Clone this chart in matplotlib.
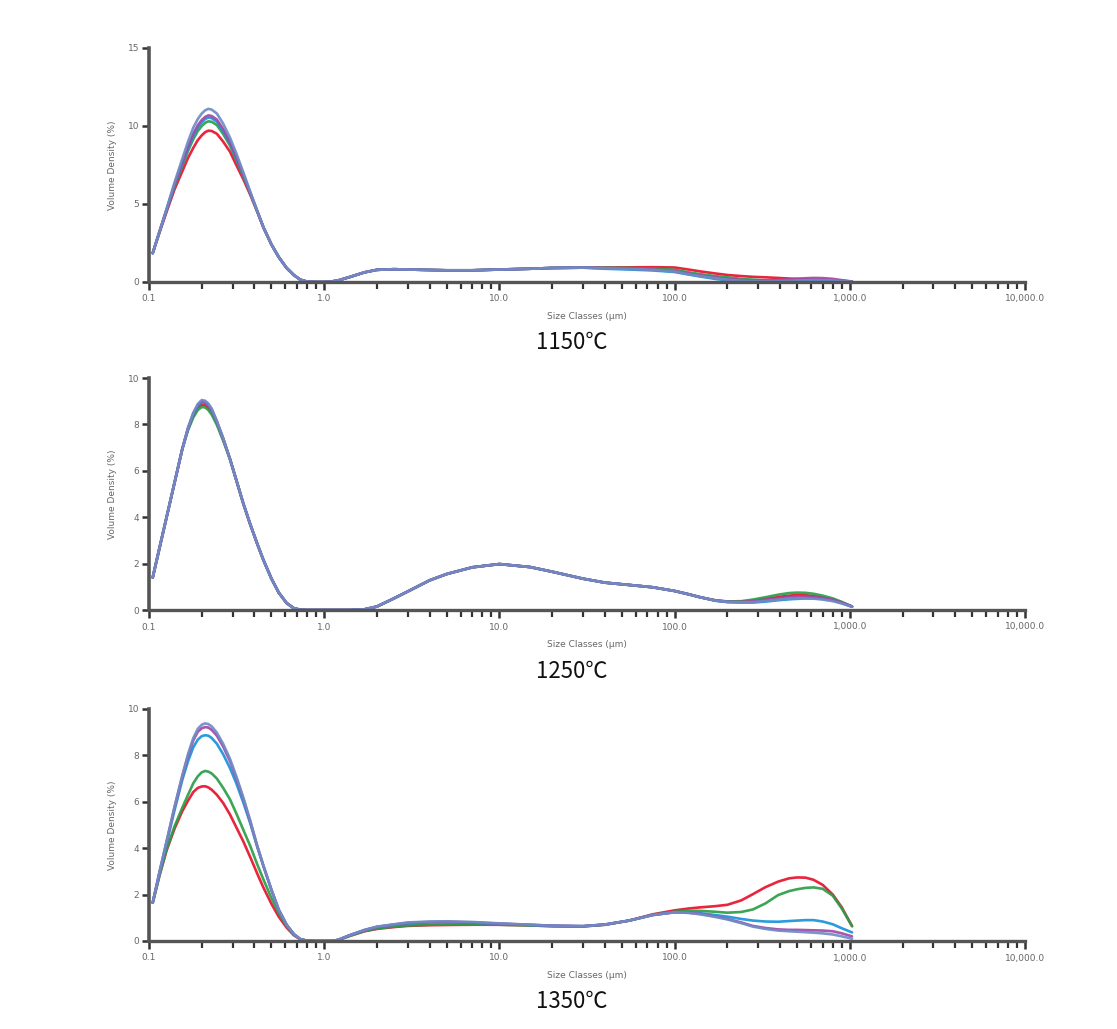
import matplotlib
matplotlib.use("Agg")
import matplotlib.pyplot as plt
from matplotlib.ticker import FixedLocator, LogLocator, NullFormatter, FixedFormatter

# ---------------- data (size classes in um, volume density in %) ----------------
peak_sizes = [0.105, 0.115, 0.126, 0.14, 0.155, 0.167, 0.179, 0.19, 0.2, 0.209,
              0.218, 0.228, 0.244, 0.265, 0.29, 0.315, 0.345, 0.378, 0.415, 0.45,
              0.5, 0.55, 0.61, 0.67, 0.73, 0.8]
mid_sizes = [0.9, 1.0, 1.1, 1.2, 1.4, 1.7, 2.0, 2.5, 3.0, 4.0, 5.0, 7.0, 10, 15, 20, 30]
tail_sizes = [40, 55, 75, 100, 120, 140, 170, 200, 240, 280, 330, 390, 450, 500,
              560, 620, 700, 800, 900, 1030]

series_colors = ["#e8112d", "#2b9e48", "#1a93d9", "#a347a8", "#6f8cc4"]  # red, green, blue, purple, slate

# ---- 1150 C ----
p1150_red = [1.85, 3.2, 4.5, 5.95, 7.1, 7.95, 8.6, 9.1, 9.4, 9.6,
             9.7, 9.68, 9.5, 9.0, 8.35, 7.5, 6.6, 5.6, 4.5, 3.5,
             2.4, 1.6, 0.9, 0.45, 0.15, 0.02]
p1150_green = [1.85, 3.25, 4.59, 6.14, 7.44, 8.4, 9.16, 9.68, 10.0, 10.2,
               10.3, 10.27, 10.06, 9.49, 8.74, 7.82, 6.79, 5.69, 4.52, 3.5,
               2.4, 1.6, 0.9, 0.45, 0.15, 0.02]
p1150_blue = [1.85, 3.25, 4.62, 6.22, 7.58, 8.58, 9.38, 9.91, 10.24, 10.44,
              10.54, 10.5, 10.28, 9.69, 8.89, 7.95, 6.87, 5.72, 4.53, 3.5,
              2.4, 1.6, 0.9, 0.45, 0.15, 0.02]
p1150_purple = [1.85, 3.25, 4.64, 6.27, 7.66, 8.69, 9.51, 10.05, 10.38, 10.58,
                10.68, 10.64, 10.41, 9.81, 8.98, 8.03, 6.92, 5.74, 4.54, 3.5,
                2.4, 1.6, 0.9, 0.45, 0.15, 0.02]
p1150_slate = [1.85, 3.25, 4.7, 6.4, 7.9, 9.0, 9.9, 10.45, 10.8, 11.0,
               11.1, 11.05, 10.8, 10.15, 9.25, 8.25, 7.05, 5.8, 4.55, 3.5,
               2.4, 1.6, 0.9, 0.45, 0.15, 0.02]
m1150 = [0.0, 0.0, 0.03, 0.1, 0.32, 0.62, 0.78, 0.82, 0.8, 0.77, 0.75, 0.75, 0.8, 0.85, 0.9, 0.92]
t1150_red = [0.93, 0.94, 0.95, 0.93, 0.8, 0.68, 0.55, 0.45, 0.38, 0.33,
             0.3, 0.26, 0.22, 0.2, 0.18, 0.16, 0.14, 0.12, 0.08, 0.03]
t1150_green = [0.92, 0.9, 0.86, 0.78, 0.62, 0.5, 0.38, 0.3, 0.2, 0.15,
               0.1, 0.08, 0.08, 0.1, 0.12, 0.12, 0.1, 0.08, 0.05, 0.02]
t1150_blue = [0.85, 0.8, 0.74, 0.64, 0.48, 0.35, 0.2, 0.1, 0.05, 0.03,
              0.02, 0.02, 0.04, 0.06, 0.08, 0.08, 0.07, 0.05, 0.03, 0.01]
t1150_purple = [0.9, 0.87, 0.8, 0.7, 0.55, 0.42, 0.3, 0.2, 0.13, 0.1,
                0.1, 0.12, 0.16, 0.2, 0.24, 0.26, 0.25, 0.2, 0.12, 0.03]
t1150_slate = [0.88, 0.84, 0.78, 0.67, 0.5, 0.38, 0.25, 0.15, 0.08, 0.05,
               0.05, 0.06, 0.08, 0.1, 0.12, 0.13, 0.12, 0.1, 0.06, 0.02]

# ---- 1250 C ----
p1250_red = [1.4, 2.7, 4.0, 5.5, 6.95, 7.8, 8.38, 8.72, 8.85, 8.83,
             8.72, 8.52, 8.05, 7.35, 6.5, 5.6, 4.6, 3.7, 2.85, 2.15,
             1.35, 0.75, 0.3, 0.08, 0.01, 0.0]
p1250_green = [1.4, 2.7, 4.0, 5.5, 6.95, 7.75, 8.3, 8.62, 8.75, 8.73,
               8.62, 8.42, 7.98, 7.3, 6.5, 5.6, 4.6, 3.7, 2.85, 2.15,
               1.35, 0.75, 0.3, 0.08, 0.01, 0.0]
p1250_blue = [1.4, 2.7, 4.0, 5.5, 6.95, 7.83, 8.45, 8.8, 8.95, 8.93,
              8.82, 8.6, 8.1, 7.4, 6.5, 5.6, 4.6, 3.7, 2.85, 2.15,
              1.35, 0.75, 0.3, 0.08, 0.01, 0.0]
p1250_purple = [1.4, 2.7, 4.0, 5.5, 6.95, 7.84, 8.47, 8.84, 9.0, 8.98,
                8.86, 8.64, 8.12, 7.4, 6.5, 5.6, 4.6, 3.7, 2.85, 2.15,
                1.35, 0.75, 0.3, 0.08, 0.01, 0.0]
p1250_slate = [1.4, 2.7, 4.0, 5.5, 6.95, 7.85, 8.5, 8.88, 9.05, 9.02,
               8.9, 8.68, 8.15, 7.4, 6.5, 5.6, 4.6, 3.7, 2.85, 2.15,
               1.35, 0.75, 0.3, 0.08, 0.01, 0.0]
m1250 = [0.0, 0.0, 0.0, 0.0, 0.0, 0.03, 0.15, 0.5, 0.8, 1.28, 1.55, 1.84, 1.98, 1.85, 1.65, 1.35]
t1250_red = [1.18, 1.08, 0.98, 0.82, 0.68, 0.55, 0.42, 0.36, 0.36, 0.4,
             0.48, 0.56, 0.62, 0.65, 0.64, 0.6, 0.54, 0.45, 0.32, 0.15]
t1250_green = [1.18, 1.08, 0.98, 0.82, 0.68, 0.55, 0.42, 0.37, 0.38, 0.45,
               0.55, 0.66, 0.73, 0.75, 0.74, 0.7, 0.62, 0.5, 0.35, 0.15]
t1250_blue = [1.18, 1.08, 0.98, 0.82, 0.68, 0.55, 0.4, 0.34, 0.32, 0.32,
              0.36, 0.42, 0.46, 0.48, 0.5, 0.5, 0.48, 0.42, 0.3, 0.14]
t1250_purple = [1.18, 1.08, 0.98, 0.82, 0.68, 0.55, 0.41, 0.35, 0.35, 0.38,
                0.44, 0.5, 0.56, 0.58, 0.58, 0.57, 0.52, 0.44, 0.32, 0.15]
t1250_slate = [1.18, 1.08, 0.98, 0.82, 0.68, 0.55, 0.41, 0.35, 0.33, 0.34,
               0.39, 0.45, 0.49, 0.5, 0.5, 0.49, 0.45, 0.38, 0.28, 0.14]

# ---- 1350 C ----
p1350_red = [1.65, 2.85, 3.9, 4.85, 5.6, 6.05, 6.42, 6.6, 6.66, 6.67,
             6.62, 6.52, 6.3, 5.95, 5.45, 4.9, 4.3, 3.62, 2.9, 2.3,
             1.6, 1.05, 0.58, 0.25, 0.07, 0.01]
p1350_green = [1.65, 2.85, 3.95, 4.95, 5.75, 6.3, 6.8, 7.1, 7.27, 7.33,
               7.3, 7.22, 7.0, 6.6, 6.1, 5.5, 4.8, 4.1, 3.3, 2.65,
               1.85, 1.2, 0.65, 0.28, 0.08, 0.01]
p1350_blue = [1.65, 2.95, 4.2, 5.65, 6.95, 7.75, 8.35, 8.68, 8.83, 8.87,
              8.85, 8.75, 8.5, 8.05, 7.45, 6.8, 5.98, 5.08, 4.05, 3.22,
              2.2, 1.35, 0.7, 0.3, 0.08, 0.01]
p1350_purple = [1.65, 3.0, 4.28, 5.77, 7.1, 7.98, 8.65, 9.02, 9.17, 9.22,
                9.2, 9.1, 8.85, 8.38, 7.75, 7.02, 6.14, 5.16, 4.08, 3.24,
                2.2, 1.35, 0.7, 0.3, 0.08, 0.01]
p1350_slate = [1.65, 3.0, 4.3, 5.8, 7.15, 8.05, 8.75, 9.15, 9.32, 9.38,
               9.35, 9.25, 8.98, 8.5, 7.85, 7.1, 6.2, 5.2, 4.1, 3.25,
               2.2, 1.35, 0.7, 0.3, 0.08, 0.01]
m1350_red = [0.0, 0.0, 0.0, 0.04, 0.22, 0.42, 0.52, 0.6, 0.65, 0.68, 0.69, 0.7, 0.7, 0.67, 0.64, 0.63]
m1350_green = [0.0, 0.0, 0.0, 0.04, 0.22, 0.43, 0.54, 0.62, 0.67, 0.7, 0.71, 0.71, 0.7, 0.67, 0.64, 0.63]
m1350_blue = [0.0, 0.0, 0.0, 0.05, 0.25, 0.47, 0.6, 0.7, 0.76, 0.8, 0.81, 0.79, 0.74, 0.69, 0.65, 0.64]
m1350_purple = [0.0, 0.0, 0.0, 0.05, 0.25, 0.47, 0.61, 0.71, 0.78, 0.82, 0.83, 0.8, 0.75, 0.7, 0.66, 0.64]
m1350_slate = [0.0, 0.0, 0.0, 0.05, 0.25, 0.48, 0.62, 0.72, 0.8, 0.84, 0.85, 0.82, 0.76, 0.7, 0.66, 0.64]
t1350_red = [0.7, 0.88, 1.15, 1.32, 1.4, 1.45, 1.5, 1.56, 1.75, 2.02,
             2.32, 2.56, 2.7, 2.74, 2.73, 2.64, 2.42, 2.0, 1.45, 0.64]
t1350_green = [0.7, 0.88, 1.13, 1.26, 1.3, 1.3, 1.26, 1.22, 1.25, 1.36,
               1.62, 1.98, 2.15, 2.23, 2.29, 2.31, 2.25, 1.95, 1.4, 0.64]
t1350_blue = [0.71, 0.88, 1.12, 1.24, 1.24, 1.2, 1.12, 1.05, 0.95, 0.88,
              0.84, 0.83, 0.86, 0.88, 0.9, 0.9, 0.84, 0.72, 0.55, 0.37]
t1350_purple = [0.71, 0.88, 1.12, 1.24, 1.22, 1.17, 1.06, 0.95, 0.8, 0.65,
                0.56, 0.5, 0.48, 0.48, 0.47, 0.46, 0.45, 0.42, 0.33, 0.2]
t1350_slate = [0.71, 0.88, 1.12, 1.24, 1.21, 1.15, 1.04, 0.93, 0.77, 0.62,
               0.52, 0.45, 0.42, 0.4, 0.38, 0.36, 0.33, 0.28, 0.2, 0.1]

captions = ["1150\u2103", "1250\u2103", "1350\u2103"]
x_ticks = [0.1, 1, 10, 100, 1000, 10000]
x_tick_labels = ["0.1", "1.0", "10.0", "100.0", "1,000.0", "10,000.0"]
y_ticks_1150 = [0, 5, 10, 15]
y_ticks_other = [0, 2, 4, 6, 8, 10]
x_label = "Size Classes (\u03bcm)"
y_label = "Volume Density (%)"

sizes = peak_sizes + mid_sizes + tail_sizes
panels = [
    ([p1150_red + m1150 + t1150_red,
      p1150_green + m1150 + t1150_green,
      p1150_blue + m1150 + t1150_blue,
      p1150_purple + m1150 + t1150_purple,
      p1150_slate + m1150 + t1150_slate], y_ticks_1150),
    ([p1250_red + m1250 + t1250_red,
      p1250_green + m1250 + t1250_green,
      p1250_blue + m1250 + t1250_blue,
      p1250_purple + m1250 + t1250_purple,
      p1250_slate + m1250 + t1250_slate], y_ticks_other),
    ([p1350_red + m1350_red + t1350_red,
      p1350_green + m1350_green + t1350_green,
      p1350_blue + m1350_blue + t1350_blue,
      p1350_purple + m1350_purple + t1350_purple,
      p1350_slate + m1350_slate + t1350_slate], y_ticks_other),
]

# ---------------- layout ----------------
W, H = 1117, 1029
fig = plt.figure(figsize=(W / 100, H / 100), dpi=100)

# (y pixel of zero, y pixel of top tick, caption y pixel)
geo = [(282, 48, 343), (610, 378, 672), (941, 709, 1001)]
x0_px, x1_px = 149, 1025
spine_col = "#555555"
label_col = "#666666"

for (data, yt), (yb, ytop, cy), cap in zip(panels, geo, captions):
    ax = fig.add_axes([x0_px / W, 1 - yb / H, (x1_px - x0_px) / W, (yb - ytop) / H])
    for vals, col in zip(data, series_colors):
        ax.plot(sizes, vals, color=col, lw=1.9, solid_capstyle="round",
                solid_joinstyle="round", alpha=0.92)
    ax.set_xscale("log")
    ax.set_xlim(0.1, 10000)
    ax.set_ylim(yt[0], yt[-1])
    ax.xaxis.set_major_locator(FixedLocator(x_ticks))
    ax.xaxis.set_major_formatter(FixedFormatter(x_tick_labels))
    ax.xaxis.set_minor_locator(LogLocator(base=10, subs=[2, 3, 4, 5, 6, 7, 8, 9], numticks=20))
    ax.xaxis.set_minor_formatter(NullFormatter())
    ax.set_yticks(yt)
    ax.set_yticklabels([str(v) for v in yt])
    for s in ["top", "right"]:
        ax.spines[s].set_visible(False)
    ax.spines["left"].set_color(spine_col)
    ax.spines["left"].set_linewidth(2.6)
    ax.spines["bottom"].set_color(spine_col)
    ax.spines["bottom"].set_linewidth(2.4)
    ax.tick_params(axis="x", which="major", direction="out", length=6, width=1.8,
                   color="#333333", labelsize=6.5, labelcolor=label_col, pad=3)
    ax.tick_params(axis="x", which="minor", direction="out", length=5, width=1.6,
                   color="#333333")
    ax.tick_params(axis="y", which="major", direction="out", length=5, width=1.8,
                   color="#333333", labelsize=6.5, labelcolor=label_col, pad=2)
    ax.set_xlabel(x_label, fontsize=6.5, color=label_col, labelpad=6,
                  family=["DejaVu Sans"])
    ax.set_ylabel(y_label, fontsize=6.5, color=label_col, labelpad=8)
    fig.text(572 / W, 1 - cy / H, cap, ha="center", va="center", fontsize=16,
             color="#111111", family=["Noto Sans CJK KR", "DejaVu Sans"],
             fontweight="light")

fig.savefig("out.png", dpi=100)
